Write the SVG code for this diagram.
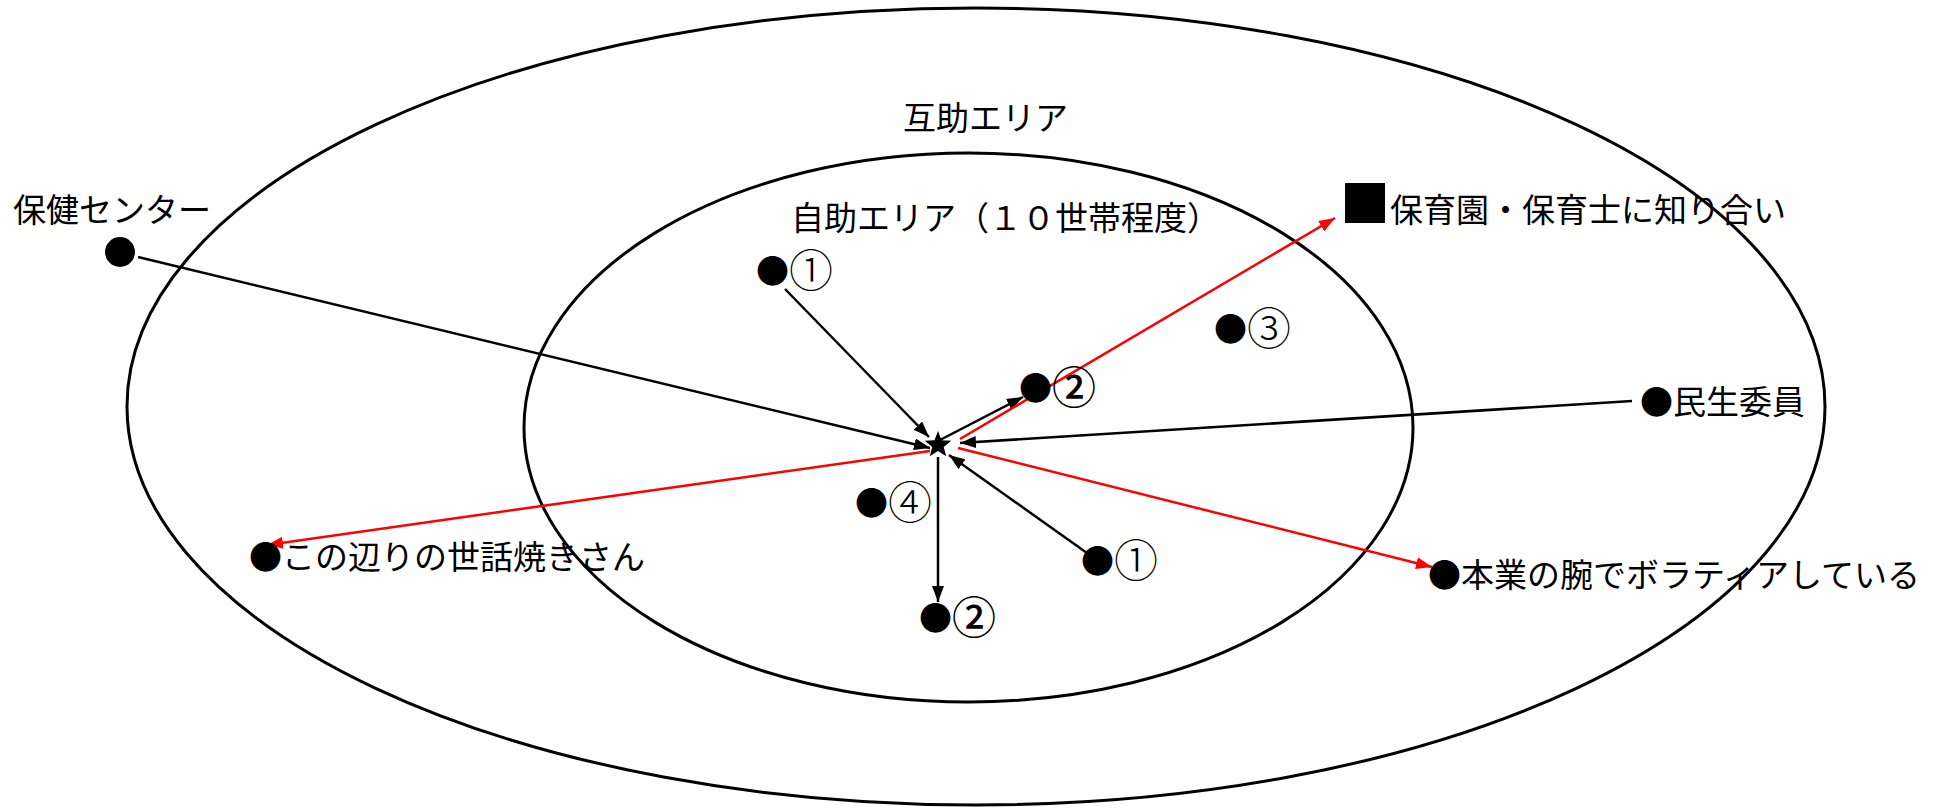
<svg xmlns="http://www.w3.org/2000/svg" width="1939" height="808" viewBox="0 0 1939 808">
<style>
.area{fill:none;stroke:#000;stroke-width:3}
.t{font-family:"Noto Sans CJK JP","Noto Sans CJK SC",sans-serif;font-size:33px;fill:#000}
.n{font-family:"Noto Sans CJK JP","Noto Sans CJK SC",sans-serif;font-size:33px;fill:#000}
.d{font-size:44px;font-weight:300}
.db{font-size:44px;font-weight:500}
.sq{font-size:50px}
.c{stroke:#000;stroke-width:2.5;fill:none;marker-end:url(#ab)}
.r{stroke:#ff0000;stroke-width:2.5;fill:none;marker-end:url(#ar)}
</style>
<defs>
<marker id="ab" viewBox="0 0 16 12" refX="16" refY="6" markerWidth="16" markerHeight="12" markerUnits="userSpaceOnUse" orient="auto"><path d="M0,0 L16,6 L0,12 z" fill="#000"/></marker>
<marker id="ar" viewBox="0 0 16 12" refX="16" refY="6" markerWidth="16" markerHeight="12" markerUnits="userSpaceOnUse" orient="auto"><path d="M0,0 L16,6 L0,12 z" fill="#ff0000"/></marker>
</defs>
<rect width="1939" height="808" fill="#fff"/>
<g id="mutual-area">
<ellipse class="area" cx="976" cy="406.5" rx="849" ry="398.5"/>
<text class="t" x="903" y="130">互助エリア</text>
</g>
<g id="self-area">
<ellipse class="area" cx="968.5" cy="427.5" rx="444.5" ry="274.5"/>
<text class="t" x="791" y="230">自助エリア（１０世帯程度）</text>
</g>
<g id="connectors">
<path class="c" d="M138,257 L930,448"/>
<path class="c" d="M785,289 L929,437"/>
<path class="c" d="M940,440 L1023,397"/>
<path class="c" d="M1632,401 L960,443"/>
<path class="c" d="M1087,553 L949,455"/>
<path class="c" d="M938,457 L938,602"/>
<path class="r" d="M960,439 L1335,218"/>
<path class="r" d="M930,451 L267,545"/>
<path class="r" d="M958,448 L1432,567"/>
</g>
<g id="center-star">
<polygon points="938,431 941.5,440.2 951.3,440.7 943.7,446.9 946.2,456.3 938,451 929.8,456.3 932.3,446.9 924.7,440.7 934.5,440.2" fill="#000"/>
</g>
<g id="hoken-center">
<text class="t" x="13" y="222">保健センター</text>
<circle cx="120" cy="252" r="15" fill="#000"/>
</g>
<g id="hoikuen">
<text class="t" x="1340" y="222"><tspan class="sq">■</tspan>保育園・保育士に知り合い</text>
</g>
<g id="minsei">
<text class="t" x="1640" y="414">●民生委員</text>
</g>
<g id="volunteer">
<text class="t" x="1428" y="587">●本業の腕でボラティアしている</text>
</g>
<g id="sewayaki">
<text class="t" x="249" y="569">●この辺りの世話焼きさん</text>
</g>
<g id="n1a"><text class="n" x="756" y="283">●<tspan class="d" dy="4">①</tspan></text></g>
<g id="n2a"><text class="n" x="1019" y="400">●<tspan class="db" dy="4">②</tspan></text></g>
<g id="n3"><text class="n" x="1214" y="341">●<tspan class="d" dy="4">③</tspan></text></g>
<g id="n4"><text class="n" x="855" y="515">●<tspan class="d" dy="4">④</tspan></text></g>
<g id="n1b"><text class="n" x="1081" y="573">●<tspan class="d" dy="4">①</tspan></text></g>
<g id="n2b"><text class="n" x="919" y="630">●<tspan class="db" dy="4">②</tspan></text></g>
</svg>
